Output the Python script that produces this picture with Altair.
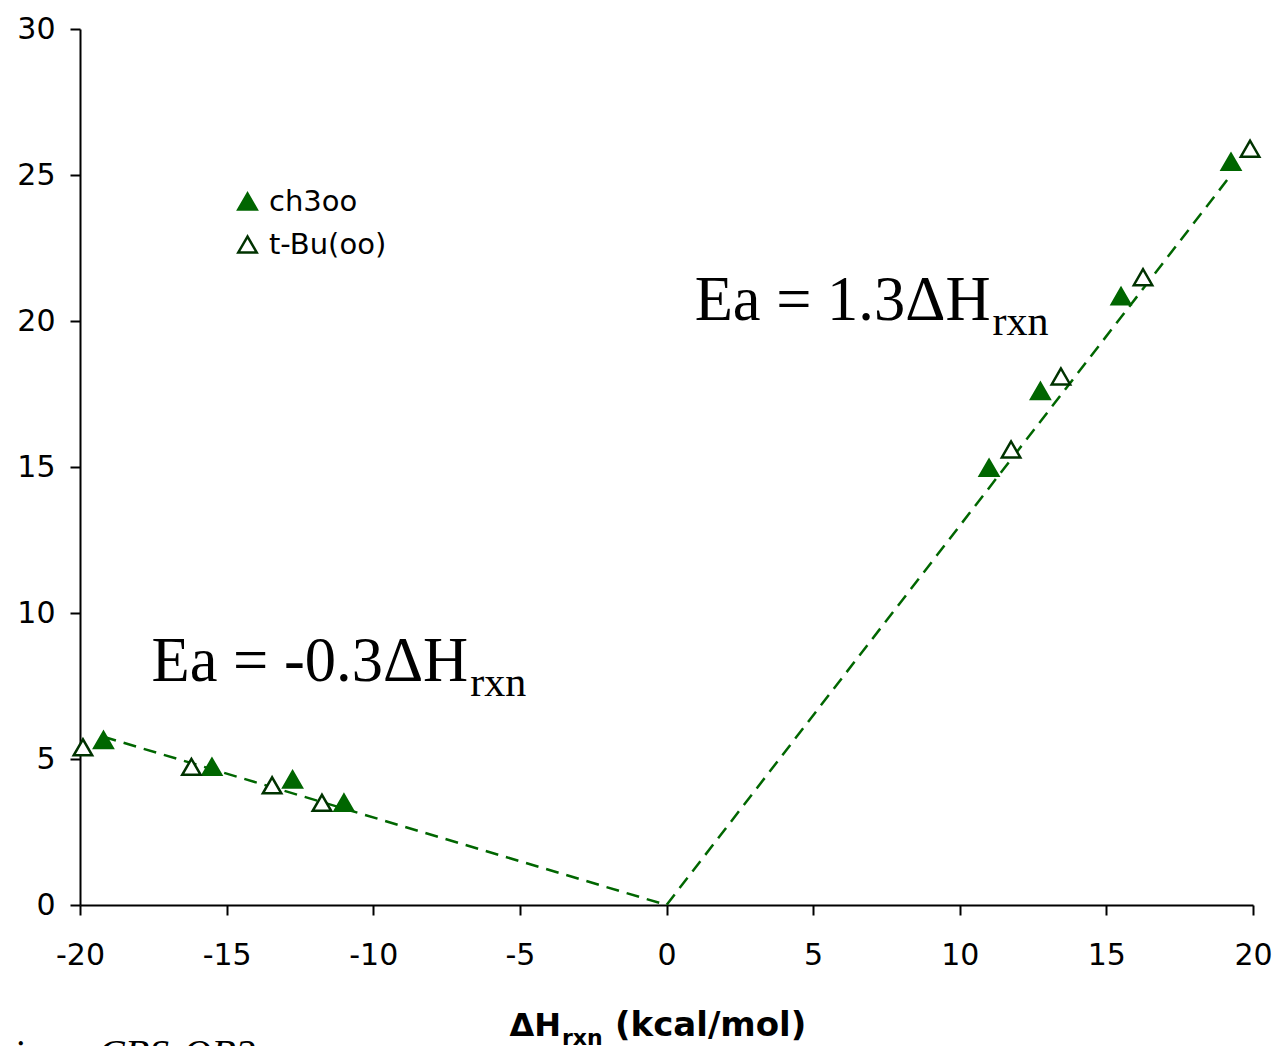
import altair as alt
import pandas as pd

# ---- data ----
ch3oo_x = [-19.2, -15.5, -12.75, -11.0, 11.0, 12.75, 15.5, 19.25]
ch3oo_y = [5.65, 4.73, 4.3, 3.5, 14.97, 17.6, 20.85, 25.45]
tbu_x = [-19.9, -16.2, -13.45, -11.75, 11.75, 13.45, 16.25, 19.9]
tbu_y = [5.4, 4.73, 4.1, 3.5, 15.6, 18.1, 21.5, 25.9]
series_names = ["ch3oo", "t-Bu(oo)"]

fit_x = [-19.2, 0.0, 19.25]
fit_y = [5.76, 0.0, 25.0]

ann_x = [-6.76, 11.05]
ann_y_main = [7.67, 20.03]
ann_y_sub = [7.16, 19.52]
ann_text = ["Ea = -0.3ΔH", "Ea = 1.3ΔH"]
ann_sub = ["rxn", "rxn"]

x_ticks = [-20, -15, -10, -5, 0, 5, 10, 15, 20]
y_ticks = [0, 5, 10, 15, 20, 25, 30]

W, H = 1173, 876
GREEN = "#006600"
DARK = "#003300"

pts = pd.DataFrame({
    "x": ch3oo_x + tbu_x,
    "y": ch3oo_y + tbu_y,
    "series": [series_names[0]] * len(ch3oo_x) + [series_names[1]] * len(tbu_x),
})
fit = pd.DataFrame({"x": fit_x, "y": fit_y, "o": list(range(len(fit_x)))})
ann = pd.DataFrame({"x": ann_x, "y": ann_y_main, "ys": ann_y_sub, "t": ann_text, "s": ann_sub})

xs = alt.Scale(domain=[-20, 20], nice=False, zero=False)
ys = alt.Scale(domain=[0, 30], nice=False, zero=False)

common_axis = dict(title=None, grid=False, tickSize=10, labelFlush=False,
                   domainColor="black", tickColor="black", domainWidth=2, tickWidth=2,
                   labelFont="DejaVu Sans", labelFontSize=30, labelColor="black",
                   labelExpr="toString(datum.value)")
xaxis = alt.Axis(values=x_ticks, labelPadding=25, **common_axis)
yaxis = alt.Axis(values=y_ticks, labelPadding=15, **common_axis)

line = alt.Chart(fit).mark_line(color=GREEN, strokeWidth=2.5, strokeDash=[13, 8]).encode(
    x=alt.X("x:Q", scale=xs, axis=xaxis),
    y=alt.Y("y:Q", scale=ys, axis=yaxis),
    order="o:O",
)

leg = alt.Legend(title=None, orient="none", legendX=153, legendY=158,
                 labelFont="DejaVu Sans", labelFontSize=29, labelColor="black",
                 symbolSize=340, symbolStrokeWidth=2.5, labelOffset=7, rowPadding=13)
dom = series_names
points = alt.Chart(pts).mark_point(filled=True, opacity=1, strokeWidth=2.5, size=340).encode(
    x=alt.X("x:Q", scale=xs),
    y=alt.Y("y:Q", scale=ys),
    shape=alt.Shape("series:N", scale=alt.Scale(domain=dom, range=["triangle-up", "triangle-up"]), legend=leg),
    fill=alt.Fill("series:N", scale=alt.Scale(domain=dom, range=[GREEN, "white"]), legend=leg),
    stroke=alt.Stroke("series:N", scale=alt.Scale(domain=dom, range=[GREEN, DARK]), legend=leg),
)

ann_main = alt.Chart(ann).mark_text(font="Liberation Serif", fontSize=62.5, align="right",
                                    baseline="alphabetic", color="black").encode(
    x=alt.X("x:Q", scale=xs), y=alt.Y("y:Q", scale=ys), text="t:N")
ann_subs = alt.Chart(ann).mark_text(font="Liberation Serif", fontSize=42, align="left",
                                    baseline="alphabetic", color="black", dx=2).encode(
    x=alt.X("x:Q", scale=xs), y=alt.Y("ys:Q", scale=ys), text="s:N")

def label(txt, x, y, **kw):
    return alt.Chart(pd.DataFrame({"t": [txt]})).mark_text(baseline="alphabetic", color="black", **kw).encode(
        x=alt.value(x), y=alt.value(y), text="t:N")

t1 = label("ΔH", 481, 1007, align="right", font="DejaVu Sans", fontWeight="bold", fontSize=32)
t2 = label("rxn", 482, 1016, align="left", font="DejaVu Sans", fontWeight="bold", fontSize=22)
t3 = label("(kcal/mol)", 535, 1007, align="left", font="DejaVu Sans", fontWeight="bold", fontSize=34)
t4 = label("using", -16, 1038, align="right", font="Liberation Serif", fontStyle="italic", fontSize=40)
t5 = label("CBS-QB3", 18, 1038, align="left", font="Liberation Serif", fontStyle="italic", fontSize=40)

chart = alt.layer(line, points, ann_main, ann_subs, t1, t2, t3, t4, t5).properties(
    width=W, height=H,
    autosize=alt.AutoSizeParams(type="none"),
    padding={"left": 72, "top": 21, "right": 19, "bottom": 150},
).configure(background="white").configure_view(stroke=None)

chart.save("out.html", embed_options={"renderer": "svg", "actions": False})
